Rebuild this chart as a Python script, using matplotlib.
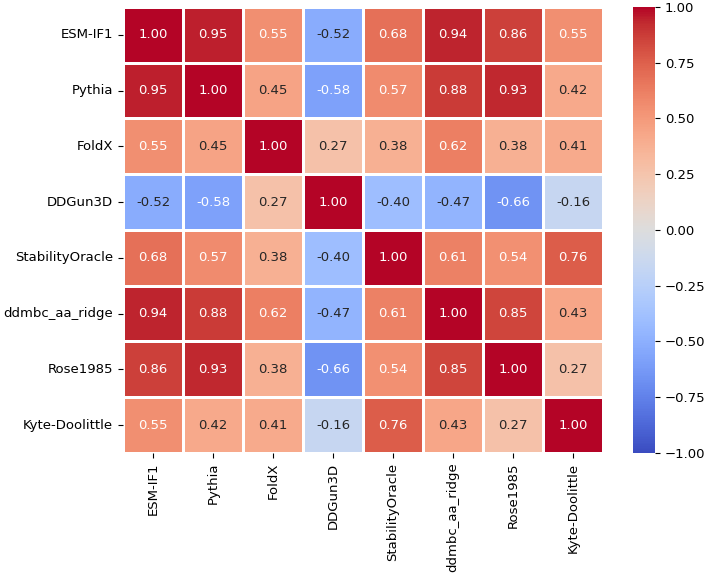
import matplotlib
matplotlib.use("Agg")
import matplotlib.pyplot as plt
import numpy as np
import seaborn as sns

methods = ['ESM-IF1', 'Pythia', 'FoldX', 'DDGun3D', 'StabilityOracle',
           'ddmbc_aa_ridge', 'Rose1985', 'Kyte-Doolittle']

esm_if1 = [1.00, 0.95, 0.55, -0.52, 0.68, 0.94, 0.86, 0.55]
pythia = [0.95, 1.00, 0.45, -0.58, 0.57, 0.88, 0.93, 0.42]
foldx = [0.55, 0.45, 1.00, 0.27, 0.38, 0.62, 0.38, 0.41]
ddgun3d = [-0.52, -0.58, 0.27, 1.00, -0.40, -0.47, -0.66, -0.16]
stability_oracle = [0.68, 0.57, 0.38, -0.40, 1.00, 0.61, 0.54, 0.76]
ddmbc_aa_ridge = [0.94, 0.88, 0.62, -0.47, 0.61, 1.00, 0.85, 0.43]
rose1985 = [0.86, 0.93, 0.38, -0.66, 0.54, 0.85, 1.00, 0.27]
kyte_doolittle = [0.55, 0.42, 0.41, -0.16, 0.76, 0.43, 0.27, 1.00]

corr = np.array([esm_if1, pythia, foldx, ddgun3d, stability_oracle,
                 ddmbc_aa_ridge, rose1985, kyte_doolittle])

fig = plt.figure(figsize=(7.09, 5.80), dpi=100)
ax = fig.add_axes([0.1735, 0.2190, 0.677, 0.769])
cax = fig.add_axes([0.893, 0.2190, 0.031, 0.769])

sns.heatmap(corr, ax=ax, cbar_ax=cax, cmap='coolwarm', vmin=-1, vmax=1,
            annot=True, fmt='.2f', linewidths=1, linecolor='white',
            xticklabels=methods, yticklabels=methods,
            annot_kws={'fontsize': 9.5})

ax.tick_params(axis='x', labelrotation=90, labelsize=9.5)
ax.tick_params(axis='y', labelrotation=0, labelsize=9.5)
cax.tick_params(labelsize=9.5)
cax.set_yticks([-1, -0.75, -0.5, -0.25, 0, 0.25, 0.5, 0.75, 1])

fig.savefig('out.png', dpi=100)
